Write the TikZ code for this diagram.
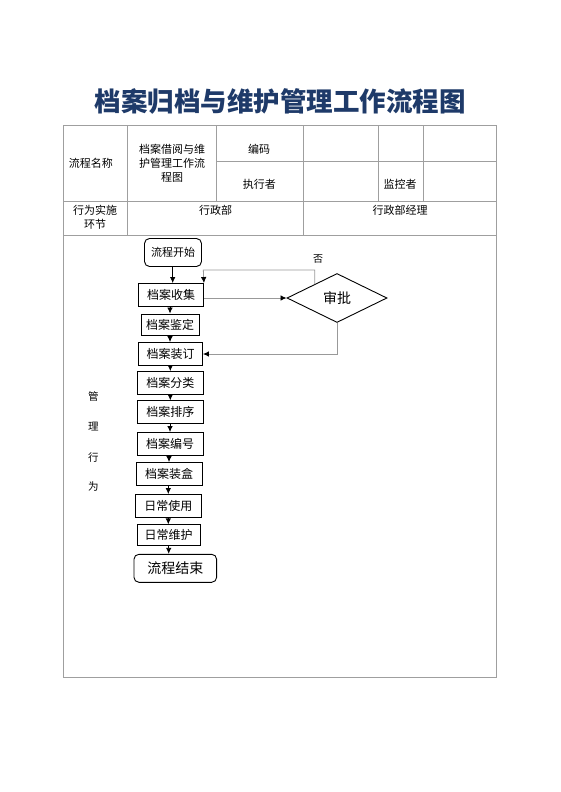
\documentclass[tikz,border=0pt]{standalone}
\usepackage{fontspec}
\setmainfont{Noto Sans CJK SC}
\usepackage{xcolor}
\usetikzlibrary{positioning, arrows, arrows.meta, calc}
\usetikzlibrary{shapes, shapes.geometric}
\definecolor{titleblue}{RGB}{30,58,105}

\begin{document}
\begin{tikzpicture}[x=1pt, y=-1pt,
    tableline/.style={draw=gray!75, line width=0.9pt},
    cell/.style={font=\fontsize{11}{14.3}\selectfont, align=center, inner sep=0pt},
    flowbox/.style={rectangle, draw=black, line width=0.9pt, inner sep=0pt, minimum width=66pt, minimum height=23pt, font=\fontsize{12}{14}\selectfont},
    endbox/.style={rectangle, rounded corners=5pt, draw=black, line width=0.9pt, inner sep=0pt},
    decision/.style={diamond, draw=black, line width=0.9pt, inner sep=0pt, aspect=2, minimum width=100pt, minimum height=49pt, font=\fontsize{14}{16}\selectfont},
    flowarrow/.style={draw=black, line width=0.8pt, -{Latex[length=6pt, width=5.5pt]}},
    backline/.style={draw=gray!80, line width=0.8pt, -{Latex[black, length=6pt, width=5.5pt]}}
]
    \useasboundingbox (0,0) rectangle (560,792);

    % title
    \node[font=\fontsize{26.5}{30}\selectfont\bfseries, text=titleblue, inner sep=0pt] (title) at (280,101.7) {档案归档与维护管理工作流程图};

    % table frame
    \draw[tableline] (63.3,125.7) rectangle (496.7,677.7);
    \draw[tableline] (216.7,161.7) -- (496.7,161.7);
    \draw[tableline] (63.3,201.7) -- (496.7,201.7);
    \draw[tableline] (63.3,235) -- (496.7,235);
    \draw[tableline] (127.7,125.7) -- (127.7,235);
    \draw[tableline] (216.7,125.7) -- (216.7,201.7);
    \draw[tableline] (303.3,125.7) -- (303.3,235);
    \draw[tableline] (378.3,125.7) -- (378.3,201.7);
    \draw[tableline] (423.3,125.7) -- (423.3,201.7);

    % table texts
    \node[cell] (procname) at (90.8,163.3) {流程名称};
    \node[cell] (procvalue) at (172,163.3) {档案借阅与维\\护管理工作流\\程图};
    \node[cell] (code) at (259,149) {编码};
    \node[cell] (executor) at (259.3,184.3) {执行者};
    \node[cell] (monitor) at (400,184.3) {监控者};
    \node[cell] (stage) at (95,217) {行为实施\\环节};
    \node[cell] (dept) at (215.5,210) {行政部};
    \node[cell] (manager) at (400,210) {行政部经理};

    % side label
    \foreach \ch/\y [count=\i] in {管/396.7, 理/426.7, 行/457.3, 为/486.7}
        \node[cell, font=\fontsize{10.5}{12}\selectfont] (side\i) at (93.3,\y) {\ch};

    % flow nodes
    \node[endbox, minimum width=57pt, minimum height=28pt, font=\fontsize{11}{13}\selectfont] (start) at (173,252.5) {流程开始};
    \node[flowbox, minimum width=65pt] (collect) at (171,295) {档案收集};
    \node[flowbox, minimum width=58pt, minimum height=21pt] (appraise) at (170,324.5) {档案鉴定};
    \node[flowbox, minimum width=64pt] (bind) at (170.5,354) {档案装订};
    \node[flowbox] (classify) at (170.3,383) {档案分类};
    \node[flowbox] (sort) at (170.3,412.3) {档案排序};
    \node[flowbox] (number) at (170,444) {档案编号};
    \node[flowbox] (boxing) at (169,474) {档案装盒};
    \node[flowbox, minimum width=66.7pt] (use) at (168.3,506) {日常使用};
    \node[flowbox, minimum width=62.7pt, minimum height=21pt] (maintain) at (168.7,535.3) {日常维护};
    \node[endbox, minimum width=82.7pt, minimum height=28pt, font=\fontsize{14}{16}\selectfont] (finish) at (175.3,568.3) {流程结束};
    \node[decision] (approve) at (337,298) {审批};
    \node[font=\fontsize{10}{12}\selectfont, inner sep=0pt] (no) at (318,259) {否};
    \coordinate (backstart) at ($(approve.west)!0.56!(approve.north)$);
    \coordinate (backcorner) at (203.3,270);

    % main flow
    \draw[flowarrow] (start.south -| 172.7,0) -- (collect.north -| 172.7,0);
    \draw[flowarrow] (appraise.north |- collect.south) -- (appraise.north);
    \draw[flowarrow] (appraise.south) -- (appraise.south |- bind.north);
    \draw[flowarrow] (classify.north |- bind.south) -- (classify.north);
    \draw[flowarrow] (classify.south) -- (sort.north);
    \draw[flowarrow] (number.north |- sort.south) -- (number.north);
    \draw[flowarrow] (boxing.north |- number.south) -- (boxing.north);
    \draw[flowarrow] (use.north |- boxing.south) -- (use.north);
    \draw[flowarrow] (use.south) -- (use.south |- maintain.north);
    \draw[flowarrow] (maintain.south) -- (maintain.south |- finish.north);

    % approval loop
    \draw[backline] (collect.east |- approve.west) -- (approve.west);
    \draw[backline] (backstart) |- (backcorner) -- (collect.north east);
    \draw[backline] (approve.south) |- (bind.east);
\end{tikzpicture}
\end{document}
